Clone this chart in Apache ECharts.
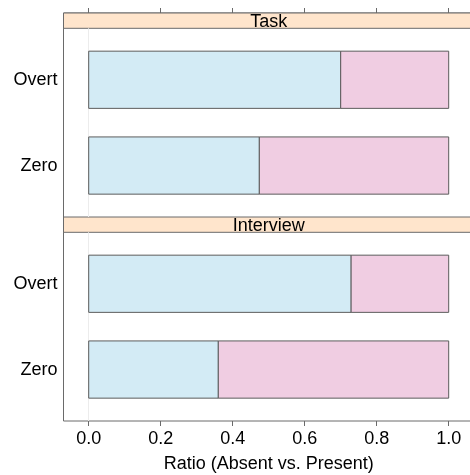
<!DOCTYPE html>
<html>
<head>
<meta charset="utf-8">
<script src="https://cdn.jsdelivr.net/npm/echarts@6/dist/echarts.min.js"></script>
<style>
  html, body { margin: 0; padding: 0; background: #fff; overflow: hidden; }
  #chart { width: 495px; height: 475px; }
</style>
</head>
<body>
<div id="chart"></div>
<script>
// Share of absent vs. present forms, by context and form type
const panels = ['Task', 'Interview'];
const categories = ['Overt', 'Zero'];
const absentTask = [0.70, 0.474];
const presentTask = [0.30, 0.526];
const absentInterview = [0.729, 0.36];
const presentInterview = [0.271, 0.64];
const tickValues = [0, 0.2, 0.4, 0.6, 0.8, 1.0];
const xTitle = 'Ratio (Absent vs. Present)';

const FONT = 'Liberation Sans, Arial, sans-serif';
const LINE = '#6a6a6a';
const ABSENT_COLOR = '#D3EBF5';
const PRESENT_COLOR = '#F0CDE2';
const STRIP_COLOR = '#FFE5CC';
// the frame runs on past the right edge of the window
const X_MIN = -0.07, X_MAX = 1.12;
const X_CENTER = 0.5;
const BOX = 0.667;

const LEFT = 63.5, RIGHT = 3.1;
const FRAME_TOP = 13, FRAME_BOTTOM = 421;
const STRIP_H = 15.3;
const PANEL_H = (FRAME_BOTTOM - FRAME_TOP) / 2 - STRIP_H;

const panelTop = i => FRAME_TOP + i * (STRIP_H + PANEL_H);

// stacked segments [start, end, categoryPosition]
function segments(values, offsets) {
  return values.map((v, i) => [offsets ? offsets[i] : 0, (offsets ? offsets[i] : 0) + v, i + 1]);
}
const panelData = [
  { absent: segments(absentTask), present: segments(presentTask, absentTask) },
  { absent: segments(absentInterview), present: segments(presentInterview, absentInterview) }
];

function renderBar(color) {
  return function (params, api) {
    const a = api.coord([api.value(0), api.value(2)]);
    const b = api.coord([api.value(1), api.value(2)]);
    const h = api.size([0, BOX])[1];
    return {
      type: 'rect',
      shape: { x: a[0], y: a[1] - h / 2, width: b[0] - a[0], height: h },
      style: { fill: color, stroke: '#5c5c5c', lineWidth: 1 }
    };
  };
}

const grids = [];
const xAxes = [];
const yAxes = [];
const series = [];

// outer frame with ticks on both sides and labels at bottom
grids.push({
  left: LEFT, right: RIGHT, top: FRAME_TOP, height: FRAME_BOTTOM - FRAME_TOP,
  show: true, borderColor: LINE, borderWidth: 1, backgroundColor: 'transparent'
});
xAxes.push({
  gridIndex: 0, type: 'value', position: 'bottom', min: X_MIN, max: X_MAX,
  axisLine: { show: false },
  axisTick: { show: true, customValues: tickValues, length: 5, inside: false, lineStyle: { color: LINE } },
  axisLabel: {
    show: true, customValues: tickValues, margin: 9,
    formatter: v => v.toFixed(1), color: '#000', fontSize: 18, fontFamily: FONT
  },
  splitLine: { show: false }
});
xAxes.push({
  gridIndex: 0, type: 'value', position: 'top', min: X_MIN, max: X_MAX,
  axisLine: { show: false },
  axisTick: { show: true, customValues: tickValues, length: 5, inside: false, lineStyle: { color: LINE } },
  axisLabel: { show: false },
  splitLine: { show: false }
});
yAxes.push({ gridIndex: 0, type: 'value', min: 0, max: 1, show: false });

const stripTops = [];
panels.forEach((name, i) => {
  const top = panelTop(i);
  stripTops.push(top);
  // strip
  grids.push({
    left: LEFT, right: RIGHT, top: top, height: STRIP_H,
    show: true, backgroundColor: STRIP_COLOR, borderColor: LINE, borderWidth: 1
  });
  const stripGrid = grids.length - 1;
  xAxes.push({ gridIndex: stripGrid, type: 'value', min: X_MIN, max: X_MAX, show: false });
  yAxes.push({ gridIndex: stripGrid, type: 'value', min: 0, max: 1, show: false });

  // panel
  grids.push({ left: LEFT, right: RIGHT, top: top + STRIP_H, height: PANEL_H, show: false });
  const g = grids.length - 1;
  const xi = xAxes.length;
  xAxes.push({
    gridIndex: g, type: 'value', min: X_MIN, max: X_MAX,
    axisLine: { show: false }, axisTick: { show: false }, axisLabel: { show: false }, splitLine: { show: false }
  });
  const yi = yAxes.length;
  yAxes.push({
    gridIndex: g, type: 'value', min: 0.4, max: 2.6, inverse: true,
    axisLine: { show: false }, axisTick: { show: false }, splitLine: { show: false },
    axisLabel: {
      show: true, customValues: categories.map((c, k) => k + 1), margin: 6,
      formatter: v => categories[Math.round(v) - 1] || '',
      color: '#000', fontSize: 18, fontFamily: FONT
    }
  });

  series.push({
    type: 'custom', name: 'Absent', xAxisIndex: xi, yAxisIndex: yi,
    data: panelData[i].absent, renderItem: renderBar(ABSENT_COLOR),
    encode: { x: [0, 1], y: 2 }, silent: true,
    markLine: {
      silent: true, symbol: 'none', label: { show: false },
      lineStyle: { color: '#ececec', width: 1, type: 'solid' },
      data: [{ xAxis: 0 }], z: 0
    },
    z: 2
  });
  series.push({
    type: 'custom', name: 'Present', xAxisIndex: xi, yAxisIndex: yi,
    data: panelData[i].present, renderItem: renderBar(PRESENT_COLOR),
    encode: { x: [0, 1], y: 2 }, silent: true, z: 2
  });
});

const chart = echarts.init(document.getElementById('chart'), null, { renderer: 'canvas' });
chart.setOption({
  animation: false,
  backgroundColor: '#fff',
  grid: grids,
  xAxis: xAxes,
  yAxis: yAxes,
  series: series
});

// strip titles and axis title, centred on the panel's visible range
const cx = chart.convertToPixel({ xAxisIndex: 0 }, X_CENTER);
const graphics = panels.map((name, i) => ({
  type: 'text', x: cx, y: stripTops[i] + STRIP_H / 2 + 1,
  style: { text: name, fontSize: 18, fontFamily: FONT, fill: '#000', align: 'center', verticalAlign: 'middle' },
  z: 100
}));
graphics.push({
  type: 'text', x: cx, y: 464,
  style: { text: xTitle, fontSize: 18, fontFamily: FONT, fill: '#000', align: 'center', verticalAlign: 'middle' },
  z: 100
});
chart.setOption({ graphic: graphics });
</script>
</body>
</html>
